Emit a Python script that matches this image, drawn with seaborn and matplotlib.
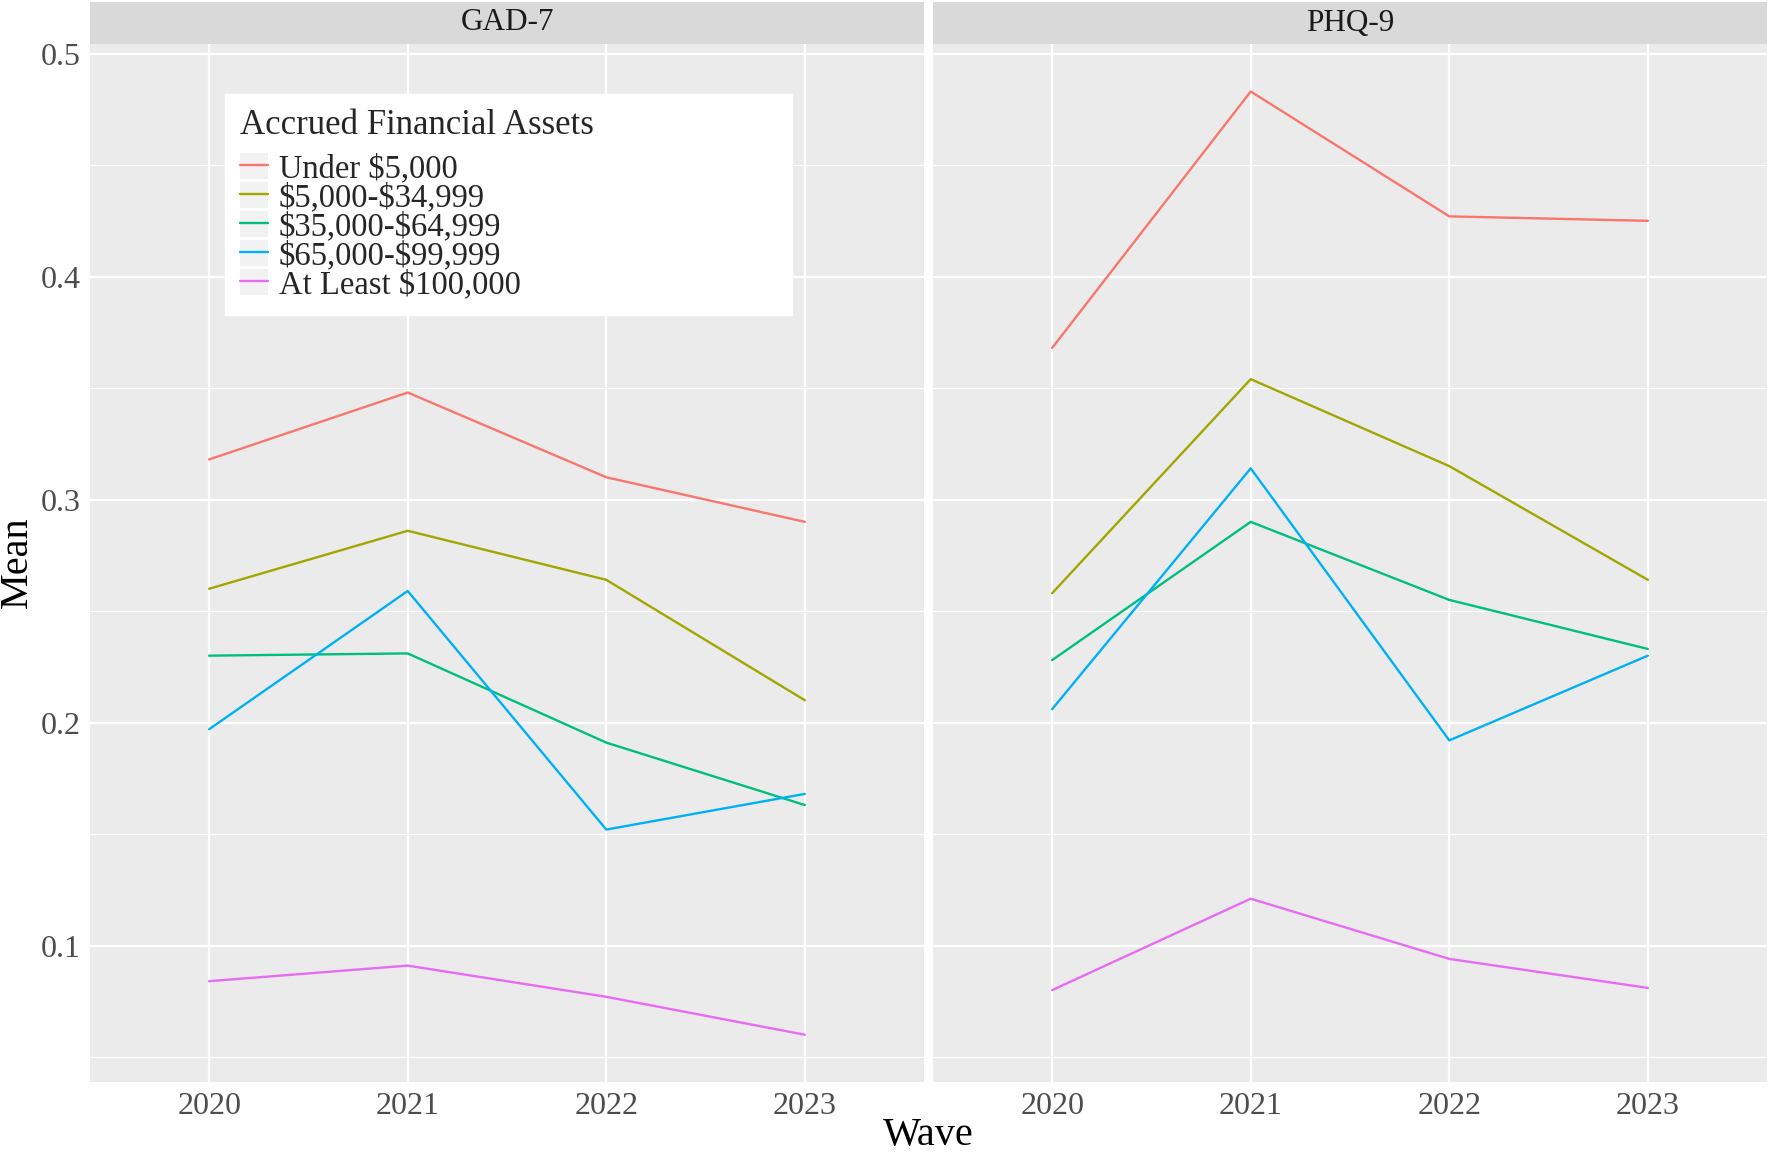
import numpy as np
import pandas as pd
import matplotlib
matplotlib.use("Agg")
import matplotlib.pyplot as plt
from matplotlib.ticker import MultipleLocator
from matplotlib.patches import Rectangle
from matplotlib.legend_handler import HandlerTuple
import seaborn as sns

# ---------------- data ----------------
waves = [2020, 2021, 2022, 2023]
measures = ["GAD-7", "PHQ-9"]
groups = ["Under $5,000", "$5,000-$34,999", "$35,000-$64,999",
          "$65,000-$99,999", "At Least $100,000"]

gad_under5k = [0.318, 0.348, 0.310, 0.290]
gad_5k_35k = [0.260, 0.286, 0.264, 0.210]
gad_35k_65k = [0.230, 0.231, 0.191, 0.163]
gad_65k_100k = [0.197, 0.259, 0.152, 0.168]
gad_100k = [0.084, 0.091, 0.077, 0.060]

phq_under5k = [0.368, 0.483, 0.427, 0.425]
phq_5k_35k = [0.258, 0.354, 0.315, 0.264]
phq_35k_65k = [0.228, 0.290, 0.255, 0.233]
phq_65k_100k = [0.206, 0.314, 0.192, 0.230]
phq_100k = [0.080, 0.121, 0.094, 0.081]

palette = ["#F8766D", "#A3A500", "#00BF7D", "#00B0F6", "#E76BF3"]

series = {
    "GAD-7": [gad_under5k, gad_5k_35k, gad_35k_65k, gad_65k_100k, gad_100k],
    "PHQ-9": [phq_under5k, phq_5k_35k, phq_35k_65k, phq_65k_100k, phq_100k],
}
rows = []
for m in measures:
    for g, vals in zip(groups, series[m]):
        for w, v in zip(waves, vals):
            rows.append({"Measure": m, "Assets": g, "Wave": w, "Mean": v})
df = pd.DataFrame(rows)

# ---------------- style ----------------
sns.set_theme(style="white")
plt.rcParams["font.family"] = ["Liberation Serif", "DejaVu Serif"]
plt.rcParams["text.parse_math"] = False

W, H = 1772, 1155
fig = plt.figure(figsize=(W / 100, H / 100), dpi=100)

y0 = 1 - 1082 / H
y1 = 1 - 44 / H
panels = [(90 / W, 924 / W), (933 / W, 1767 / W)]
strip_top = 1 - 2 / H

axes = []
for i, (m, (xa, xb)) in enumerate(zip(measures, panels)):
    ax = fig.add_axes([xa, y0, xb - xa, y1 - y0])
    axes.append(ax)
    ax.set_facecolor("#EBEBEB")
    sns.lineplot(data=df[df["Measure"] == m], x="Wave", y="Mean",
                 hue="Assets", hue_order=groups, palette=palette,
                 linewidth=1.7, ax=ax, legend=(i == 0))
    ax.set_xlim(2019.4, 2023.6)
    ax.set_ylim(0.0388, 0.5043)
    ax.set_xticks(waves)
    ax.set_xticklabels([str(w) for w in waves])
    ax.yaxis.set_major_locator(MultipleLocator(0.1))
    ax.yaxis.set_minor_locator(MultipleLocator(0.05))
    ax.xaxis.set_minor_locator(MultipleLocator(1))
    ax.grid(which="major", color="white", linewidth=1.6)
    ax.grid(which="minor", axis="y", color="white", linewidth=0.8)
    ax.set_axisbelow(True)
    for s in ax.spines.values():
        s.set_visible(False)
    ax.tick_params(axis="both", which="major", length=3, width=1,
                   color="#333333", labelsize=23, labelcolor="#4D4D4D", pad=4)
    ax.tick_params(axis="both", which="minor", length=0)
    ax.set_xlabel("")
    ax.set_ylabel("")
    if i == 1:
        ax.tick_params(axis="y", which="both", left=False, labelleft=False)
    # facet strip
    sax = fig.add_axes([xa, y1, xb - xa, strip_top - y1])
    sax.set_facecolor("#D9D9D9")
    sax.set_xticks([])
    sax.set_yticks([])
    for s in sax.spines.values():
        s.set_visible(False)
    sax.text(0.5, 0.5, m, ha="center", va="center", fontsize=22.5,
             color="#1A1A1A", transform=sax.transAxes)

# legend
ax0 = axes[0]
handles, labels = ax0.get_legend_handles_labels()
ax0.get_legend().remove()
key_handles = [(Rectangle((0, 0), 1, 1, facecolor="#F2F2F2", edgecolor="none"), h)
               for h in handles]
leg = ax0.legend(key_handles, labels, title="Accrued Financial Assets",
                 handler_map={tuple: HandlerTuple(ndivide=1, pad=0)},
                 loc="upper left", bbox_to_anchor=(0.162, 0.952, 0.680, 0.0),
                 mode="expand", borderaxespad=0, frameon=True, fancybox=False,
                 facecolor="white", edgecolor="white", framealpha=1,
                 fontsize=23.5, title_fontsize=25, handlelength=0.85,
                 handleheight=0.86, handletextpad=0.35, labelspacing=-0.07,
                 borderpad=0.45, alignment="left")
leg._legend_box.sep = 8
for line in leg.get_lines():
    line.set_linewidth(1.7)

fig.text(928 / W, 1 - 1136 / H, "Wave", ha="center", va="center", fontsize=29,
         color="black")
fig.text(17 / W, 1 - 562 / H, "Mean", ha="center", va="center", fontsize=29,
         rotation=90, color="black")

fig.savefig("out.png", dpi=100, facecolor="white")
